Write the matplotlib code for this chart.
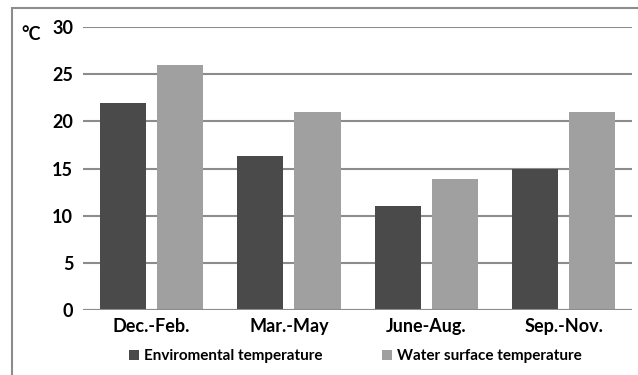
import matplotlib
matplotlib.use("Agg")
import matplotlib.pyplot as plt
import numpy as np
from matplotlib.patches import Rectangle

seasons = ["Dec.-Feb.", "Mar.-May", "June-Aug.", "Sep.-Nov."]
env_temp = [22, 16.3, 11, 15]
water_temp = [26, 21, 13.9, 21]
yticks = [0, 5, 10, 15, 20, 25, 30]

plt.rcParams['font.family'] = ['Lato', 'DejaVu Sans']

fig = plt.figure(figsize=(6.38, 3.75), dpi=100)
ax = fig.add_axes([0.130, 0.173, 0.861, 0.755])

# outer frame (cropped at right/bottom)
fig.patches.append(Rectangle((12/638, -0.1), 1.2, 1 - 8/375 + 0.1,
                             transform=fig.transFigure, fill=False,
                             edgecolor='#8c8c8c', linewidth=1.5))

x = np.arange(len(seasons))
w = 0.335
ax.bar(x - 0.208, env_temp, w, color='#4a4a4a', label='Enviromental temperature', zorder=3)
ax.bar(x + 0.208, water_temp, w, color='#a0a0a0', label='Water surface temperature', zorder=3)

ax.set_xlim(-0.5, 3.5)
ax.set_ylim(0, 30)
ax.set_yticks(yticks)
ax.set_xticks(x)
ax.set_xticklabels(seasons, fontsize=13, fontweight='bold')
for t in ax.get_yticklabels():
    t.set_fontsize(13)
    t.set_fontweight('bold')
ax.tick_params(axis='both', length=0, pad=7)
ax.tick_params(axis='x', pad=6)
ax.yaxis.grid(True, color='#8c8c8c', linewidth=1.5, zorder=0)
for s in ax.spines.values():
    s.set_visible(False)
ax.axhline(0, color='#8c8c8c', linewidth=1.5, zorder=4)

fig.text(21/638, 1 - 35/375, '°C', fontsize=13, fontweight='bold', va='center', ha='left')

leg = fig.legend(loc='center', bbox_to_anchor=(0.557, 1 - 356/375), ncol=2, frameon=False,
                 fontsize=11, handlelength=0.65, handleheight=0.65, handletextpad=0.3,
                 columnspacing=3.9)
for t in leg.get_texts():
    t.set_fontweight('bold')

fig.savefig('out.png', dpi=100)
